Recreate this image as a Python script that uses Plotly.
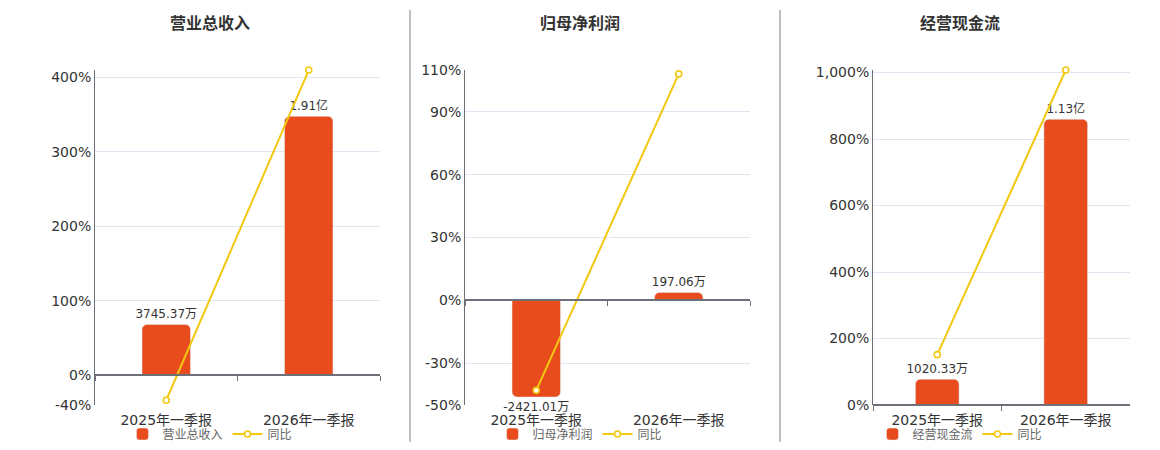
import plotly.graph_objects as go

# data (amounts in 万, yoy in %)
categories = ["2025年一季报", "2026年一季报"]

revenue = [3745.37, 19100.0]
revenue_labels = ["3745.37万", "1.91亿"]
revenue_yoy = [-33.6, 410.0]

profit = [-2421.01, 197.06]
profit_labels = ["-2421.01万", "197.06万"]
profit_yoy = [-43.0, 108.14]

cashflow = [1020.33, 11300.0]
cashflow_labels = ["1020.33万", "1.13亿"]
cashflow_yoy = [151.4, 1007.5]

titles = ["营业总收入", "归母净利润", "经营现金流"]

pct_ticks = [
    [-40, 0, 100, 200, 300, 400, 410.1],
    [-50, -30, 0, 30, 60, 90, 110],
    [0, 200, 400, 600, 800, 1000, 1007.6],
]
pct_ticktext = [
    ["-40%", "0%", "100%", "200%", "300%", "400%", ""],
    ["-50%", "-30%", "0%", "30%", "60%", "90%", "110%"],
    ["0%", "200%", "400%", "600%", "800%", "1,000%", ""],
]

BAR = '#e84c1d'
LINE = '#f2c811'
AXIS = '#6e7079'
GRID = '#e0e6f1'
FONT = 'DejaVu Sans, Noto Sans CJK SC, sans-serif'

# page body keeps its 8px margin, so the figure is a bit smaller than the window
OFF = 8
W, H = 1160 - 2 * OFF, 450 - 2 * OFF


def px(v):
    return (v - OFF) / W


def py(v):
    return 1 - (v - OFF) / H


x_px = [(95, 380), (465, 750), (873, 1130)]
centers = [210, 580, 960]
y_dom = [py(405), py(70)]
pct_range = [(-40, 410.1), (-50, 110), (0, 1007.6)]
bar_scale = [54.9, 52.4, 13.15]  # 万 per % point, so both zeros line up

panels = [
    (revenue, revenue_labels, revenue_yoy),
    (profit, profit_labels, profit_yoy),
    (cashflow, cashflow_labels, cashflow_yoy),
]

fig = go.Figure()
layout = {}
shapes = []
annotations = []

for i, (vals, labels, yoy) in enumerate(panels):
    n = i + 1
    sfx = '' if n == 1 else str(n)
    ov = str(n + 3)
    lg = 'legend' if n == 1 else 'legend' + str(n)
    lo, hi = pct_range[i]
    k = bar_scale[i]

    fig.add_trace(go.Bar(
        x=categories, y=vals, name=titles[i],
        xaxis='x' + sfx, yaxis='y' + sfx, legend=lg,
        width=0.34, marker=dict(color=BAR, cornerradius=5),
        text=labels, textposition='outside', cliponaxis=False, constraintext='none',
        textfont=dict(size=12, color='#333'),
        hoverinfo='x+text',
    ))
    fig.add_trace(go.Scatter(
        x=categories, y=yoy, name='同比', mode='lines+markers',
        xaxis='x' + ov, yaxis='y' + ov, legend=lg,
        line=dict(color=LINE, width=2),
        marker=dict(symbol='circle', size=6, color='white', line=dict(color=LINE, width=1.6)),
        cliponaxis=False,
    ))

    dom = [px(x_px[i][0]), px(x_px[i][1])]
    layout['xaxis' + sfx] = dict(
        domain=dom, anchor='y' + sfx, showline=False, ticks='', showgrid=False,
        ticklabelstandoff=5,
        tickfont=dict(size=14, color='#333'), fixedrange=True,
    )
    layout['yaxis' + sfx] = dict(
        domain=y_dom, anchor='x' + sfx, range=[lo * k, hi * k], visible=False, fixedrange=True,
    )
    zero_pos = y_dom[0] + (0 - lo) / (hi - lo) * (y_dom[1] - y_dom[0])
    layout['xaxis' + ov] = dict(
        overlaying='x' + sfx, matches='x' + sfx, anchor='free', position=zero_pos,
        showline=True, linecolor=AXIS, linewidth=2, ticks='outside', tickson='boundaries',
        ticklen=5, tickcolor=AXIS, showticklabels=False, showgrid=False, fixedrange=True,
    )
    layout['yaxis' + ov] = dict(
        overlaying='y' + sfx, anchor='x' + sfx, side='left', range=[lo, hi],
        tickvals=pct_ticks[i], ticktext=pct_ticktext[i],
        showgrid=True, gridcolor=GRID, gridwidth=1, zeroline=False,
        showline=True, linecolor=AXIS, linewidth=1, ticks='',
        tickfont=dict(size=14, color='#333'), fixedrange=True,
    )
    layout[lg] = dict(
        orientation='h', x=px(centers[i]), xanchor='center', y=py(434), yanchor='middle',
        font=dict(size=12, color='#666'), bgcolor='rgba(0,0,0,0)',
    )
    annotations.append(dict(
        text='<b>' + titles[i] + '</b>', x=px(centers[i]), y=py(23), xref='paper', yref='paper',
        showarrow=False, font=dict(size=16, color='#333'), xanchor='center', yanchor='middle',
    ))

for sx in [410, 780]:
    shapes.append(dict(type='line', xref='paper', yref='paper', x0=px(sx), x1=px(sx),
                       y0=py(444), y1=py(10), line=dict(color='#aaaaaa', width=1.5)))

fig.update_layout(
    width=W, height=H,
    margin=dict(l=0, r=0, t=0, b=0, autoexpand=False),
    paper_bgcolor='white', plot_bgcolor='white',
    font=dict(family=FONT, color='#333'),
    showlegend=True, shapes=shapes, annotations=annotations,
    **layout,
)

fig.write_html("out.html")
